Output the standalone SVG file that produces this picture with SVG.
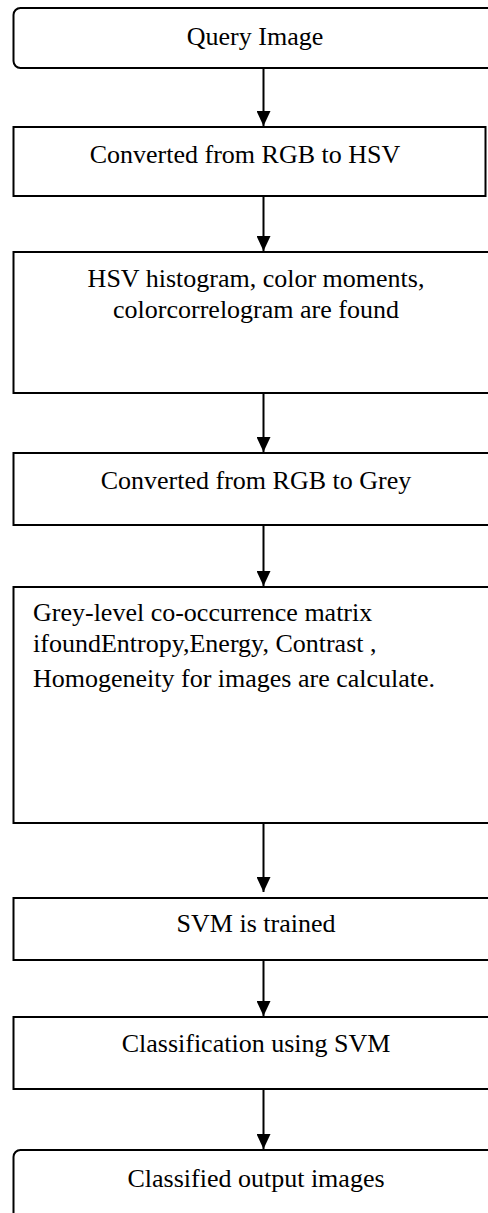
<svg xmlns="http://www.w3.org/2000/svg" width="488" height="1213" viewBox="0 0 488 1213">
  <style>
    .box { fill: #fff; stroke: #000; stroke-width: 2; }
    .lbl { font-family: "Liberation Serif", "Times New Roman", serif; font-size: 26px; fill: #000; }
    .mid { text-anchor: middle; }
    .edge { stroke: #000; stroke-width: 2; fill: none; marker-end: url(#head); }
  </style>
  <defs>
    <marker id="head" markerUnits="userSpaceOnUse" markerWidth="15" markerHeight="14" refX="15" refY="7" orient="auto">
      <path d="M0,0 L15,7 L0,14 Z" fill="#000"/>
    </marker>
  </defs>

  <rect width="488" height="1213" fill="#fff"/>

  <g id="connectors">
    <line class="edge" x1="263.5" y1="68" x2="263.5" y2="126"/>
    <line class="edge" x1="263.5" y1="196" x2="263.5" y2="251"/>
    <line class="edge" x1="263.5" y1="393" x2="263.5" y2="452"/>
    <line class="edge" x1="263.5" y1="525" x2="263.5" y2="586"/>
    <line class="edge" x1="263.5" y1="823" x2="263.5" y2="892"/>
    <line class="edge" x1="263.5" y1="960" x2="263.5" y2="1016"/>
    <line class="edge" x1="263.5" y1="1089" x2="263.5" y2="1149"/>
  </g>

  <g id="query-image">
    <rect class="box" x="13.5" y="8" width="490" height="60" rx="7"/>
    <text class="lbl mid" x="255" y="45">Query Image</text>
  </g>

  <g id="rgb-to-hsv">
    <rect class="box" x="13.5" y="127" width="472" height="69"/>
    <text class="lbl mid" x="245" y="163">Converted from RGB to HSV</text>
  </g>

  <g id="color-features">
    <rect class="box" x="13.5" y="252" width="490" height="141"/>
    <text class="lbl mid" x="256" y="287">HSV histogram, color moments,</text>
    <text class="lbl mid" x="256" y="318">colorcorrelogram are found</text>
  </g>

  <g id="rgb-to-grey">
    <rect class="box" x="13.5" y="453" width="490" height="72"/>
    <text class="lbl mid" x="256" y="489">Converted from RGB to Grey</text>
  </g>

  <g id="texture-features">
    <rect class="box" x="13.5" y="587" width="490" height="236"/>
    <text class="lbl" x="33" y="621">Grey-level co-occurrence matrix</text>
    <text class="lbl" x="33" y="652">ifoundEntropy,Energy, Contrast ,</text>
    <text class="lbl" x="33" y="687">Homogeneity for images are calculate.</text>
  </g>

  <g id="svm-trained">
    <rect class="box" x="13.5" y="898" width="490" height="62"/>
    <text class="lbl mid" x="256" y="932">SVM is trained</text>
  </g>

  <g id="svm-classification">
    <rect class="box" x="13.5" y="1017" width="490" height="72"/>
    <text class="lbl mid" x="256" y="1052">Classification using SVM</text>
  </g>

  <g id="classified-output">
    <rect class="box" x="13.5" y="1150" width="490" height="80" rx="7"/>
    <text class="lbl mid" x="256" y="1187">Classified output images</text>
  </g>
</svg>
